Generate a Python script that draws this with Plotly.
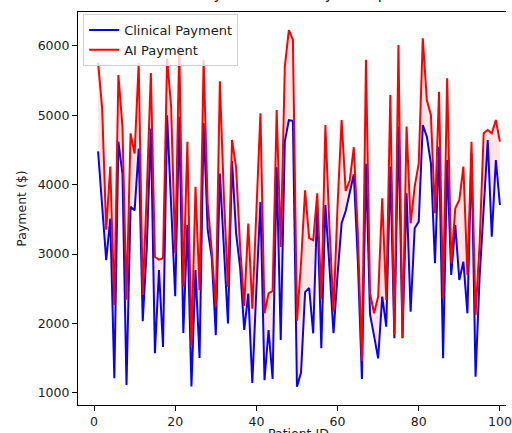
import plotly.graph_objects as go

# Per-patient payments (USD)
patient_id = list(range(1, 101))
clinical_payment = [
    4480, 3630, 2910, 3510, 1210, 4620, 4160, 1110, 3680, 3630,
    4520, 2030, 3100, 4810, 1570, 2770, 1660, 5000, 3730, 2390,
    4980, 1860, 3420, 1090, 2770, 1500, 4890, 3350, 2950, 1830,
    4160, 3150, 2000, 4340, 3300, 2800, 1905, 2430, 1140, 2500,
    3750, 1180, 1905, 1200, 4250, 1760, 4620, 4930, 4920, 1087,
    1290, 2450, 2510, 1857, 3700, 1640, 3707, 2818, 1857, 2700,
    3443, 3620, 3910, 4150, 2900, 1200, 4300, 2130, 1820, 1496,
    2386, 1953, 4260, 1785, 4837, 1785, 3876, 2169, 3371, 3467,
    4861, 4693, 4308, 2866, 4548, 1496, 4356, 2698, 3419, 2626,
    2890, 2145, 4452, 1231, 2673, 3635, 4645, 3250, 4356, 3707,
]
ai_payment = [
    5760, 5100, 3350, 4260, 2265, 5580, 4840, 2340, 4740, 4450,
    5750, 2410, 3900, 5610, 2960, 2920, 2940, 5820, 5120, 3010,
    5990, 2530, 4620, 1680, 3970, 2480, 5800, 3730, 3050, 2240,
    5490, 3830, 2530, 4645, 4250, 3100, 2250, 3440, 2210, 3500,
    5030, 2145, 2434, 2467, 5077, 3100, 5700, 6230, 6090, 2040,
    2870, 3920, 3230, 3200, 3876, 2350, 4861, 3394, 2169, 3700,
    4933, 3910, 4060, 4540, 3300, 1460, 5800, 2434, 2145, 2386,
    3803, 2337, 5293, 1833, 6014, 1800, 4837, 3443, 3972, 4308,
    6111, 5221, 5005, 3587, 5341, 2361, 5534, 2866, 3659, 3779,
    4260, 2698, 4620, 2121, 3155, 4741, 4789, 4741, 4933, 4620,
]
x_ticks = [0, 20, 40, 60, 80, 100]
y_ticks = [1000, 2000, 3000, 4000, 5000, 6000]

FONT = "DejaVu Sans"
TEXT = "#1a1a1a"

fig = go.Figure()

fig.add_trace(go.Scatter(
    x=patient_id, y=clinical_payment, mode="lines", name="Clinical Payment",
    line=dict(color="#0000ff", width=2),
))
fig.add_trace(go.Scatter(
    x=patient_id, y=ai_payment, mode="lines", name="AI Payment",
    line=dict(color="#ff0000", width=2),
))
# shaded gap between the two payment series
fig.add_trace(go.Scatter(
    x=patient_id, y=clinical_payment, mode="lines", line=dict(width=0),
    showlegend=False, hoverinfo="skip",
))
fig.add_trace(go.Scatter(
    x=patient_id, y=ai_payment, mode="lines", line=dict(width=0),
    fill="tonexty", fillcolor="rgba(255,0,0,0.1)",
    showlegend=False, hoverinfo="skip",
))

fig.update_layout(
    width=512, height=433,
    margin=dict(l=78, r=0, t=12, b=28),
    paper_bgcolor="white", plot_bgcolor="white",
    font=dict(family=FONT, size=12.5, color=TEXT),
    showlegend=True,
    legend=dict(
        x=0.012, y=0.995, xanchor="left", yanchor="top",
        traceorder="normal",
        bgcolor="rgba(255,255,255,0.8)", bordercolor="#d0d0d0", borderwidth=1,
        font=dict(family=FONT, size=13, color=TEXT),
        tracegroupgap=0,
    ),
    xaxis=dict(
        range=[-3.95, 101.5], tickvals=x_ticks, showgrid=False, zeroline=False,
        showline=True, linecolor="black", linewidth=1.1, mirror=True,
        ticks="outside", ticklen=5, tickwidth=1.1, tickcolor="black",
        ticklabeloverflow="allow",
        tickfont=dict(family=FONT, size=12.5, color=TEXT),
    ),
    yaxis=dict(
        range=[823, 6490], tickvals=y_ticks, showgrid=False, zeroline=False,
        showline=True, linecolor="black", linewidth=1.1, mirror=False,
        ticks="outside", ticklen=5, tickwidth=1.1, tickcolor="black",
        tickfont=dict(family=FONT, size=12.5, color=TEXT),
        title=dict(text="Payment ($)", standoff=8,
                   font=dict(family=FONT, size=12.5, color=TEXT)),
    ),
    annotations=[
        dict(text="Patient ID", xref="paper", yref="paper", x=0.516, y=0,
             yshift=-19, xanchor="center", yanchor="top", showarrow=False,
             font=dict(family=FONT, size=12.5, color=TEXT)),
        dict(text="Clinical Payment vs AI Payment per Patient", xref="paper",
             yref="paper", x=0.516, y=1, yshift=7, xanchor="center",
             yanchor="bottom", showarrow=False,
             font=dict(family=FONT, size=15, color=TEXT)),
    ],
)

fig.write_html("out.html")
